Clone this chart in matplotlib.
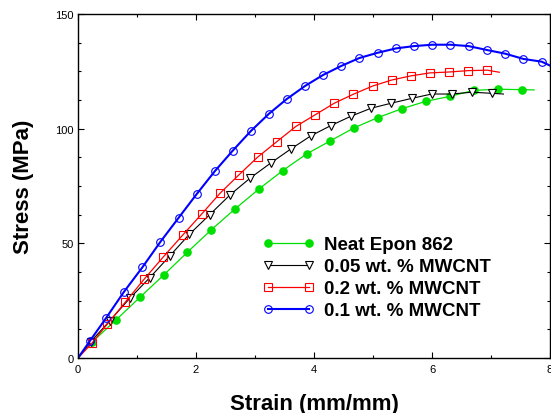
import matplotlib
matplotlib.use("Agg")
import matplotlib.pyplot as plt
from matplotlib.ticker import MultipleLocator

plt.rcParams['font.family'] = ['Liberation Sans', 'DejaVu Sans']

# Neat Epon 862
neat_x = [0, 0.242, 0.644, 1.051, 1.453, 1.853, 2.259, 2.666, 3.063, 3.469, 3.876, 4.271,
          4.683, 5.08, 5.49, 5.893, 6.305, 6.71, 7.119, 7.52, 7.73]
neat_y = [0, 7.0, 16.6, 26.5, 36.2, 46.1, 55.9, 65.1, 73.6, 81.7, 89.0, 94.6,
          100.4, 104.8, 108.7, 111.9, 114.1, 116.7, 117.2, 117.0, 116.9]

# 0.05 wt. % MWCNT
c005_x = [0, 0.215, 0.542, 0.876, 1.215, 1.559, 1.886, 2.232, 2.576, 2.92, 3.266, 3.605,
          3.949, 4.283, 4.625, 4.966, 5.31, 5.656, 5.995, 6.334, 6.678, 7.017, 7.21]
c005_y = [0, 7.1, 16.3, 26.0, 35.0, 44.6, 53.9, 62.5, 71.1, 78.5, 85.0, 91.1,
          96.9, 101.3, 105.4, 108.9, 111.1, 113.2, 115.1, 115.1, 115.9, 115.4, 115.1]

# 0.2 wt. % MWCNT
c02_x = [0, 0.237, 0.497, 0.80, 1.119, 1.44, 1.775, 2.097, 2.41, 2.729, 3.046, 3.368,
         3.695, 4.017, 4.344, 4.666, 4.995, 5.317, 5.639, 5.961, 6.288, 6.615, 6.937, 7.14]
c02_y = [0, 6.5, 14.8, 24.3, 34.3, 43.9, 53.6, 62.8, 71.9, 79.9, 87.6, 94.3,
         101.0, 106.0, 111.1, 115.0, 118.6, 121.2, 123.0, 124.3, 124.7, 125.3, 125.5, 124.6]

# 0.1 wt. % MWCNT
c01_x = [0, 0.203, 0.475, 0.78, 1.09, 1.395, 1.707, 2.012, 2.317, 2.622, 2.927, 3.232,
         3.537, 3.847, 4.153, 4.458, 4.768, 5.08, 5.39, 5.695, 6.005, 6.31, 6.62, 6.93,
         7.24, 7.55, 7.86, 8.0]
c01_y = [0, 7.5, 17.4, 28.9, 39.5, 50.6, 61.2, 71.5, 81.4, 90.4, 98.9, 106.4,
         112.9, 118.6, 123.4, 127.3, 130.8, 133.1, 135.0, 136.0, 136.6, 136.6, 136.0, 134.3,
         132.7, 130.4, 129.2, 127.5]

labels = ["Neat Epon 862", "0.05 wt. % MWCNT", "0.2 wt. % MWCNT", "0.1 wt. % MWCNT"]

fig = plt.figure(figsize=(5.51, 4.14), dpi=100)
ax = fig.add_axes([0.1416, 0.1329, 0.8566, 0.8309])

ax.plot(neat_x, neat_y, color='#00e000', lw=0.9, marker='o', ms=5.2,
        mfc='#00e000', mec='#00e000', markevery=list(range(1, len(neat_x) - 1)),
        label=labels[0])
ax.plot(c005_x, c005_y, color='black', lw=0.8, marker='v', ms=5.2,
        mfc='white', mec='black', mew=0.8, markevery=list(range(1, len(c005_x) - 1)),
        label=labels[1])
ax.plot(c02_x, c02_y, color='red', lw=0.9, marker='s', ms=6,
        mfc='none', mec='red', mew=0.8, markevery=list(range(1, len(c02_x) - 1)),
        label=labels[2])
ax.plot(c01_x, c01_y, color='blue', lw=1.5, marker='o', ms=5.5,
        mfc='none', mec='blue', mew=0.8, markevery=list(range(1, len(c01_x) - 1)),
        label=labels[3])

ax.set_xlim(0, 8)
ax.set_ylim(0, 150)
ax.xaxis.set_major_locator(MultipleLocator(2))
ax.xaxis.set_minor_locator(MultipleLocator(1))
ax.yaxis.set_major_locator(MultipleLocator(50))
ax.yaxis.set_minor_locator(MultipleLocator(12.5))
ax.tick_params(which='both', direction='in', top=True, right=True, labelsize=8, width=0.8)
ax.tick_params(axis='x', which='both', pad=4.5)
ax.tick_params(axis='y', which='both', pad=3)
ax.tick_params(which='major', length=4)
ax.tick_params(which='minor', length=2.5)
for s in ax.spines.values():
    s.set_linewidth(1.0)

ax.set_xlabel("Strain (mm/mm)", fontsize=16, fontweight='bold')
ax.set_ylabel("Stress (MPa)", fontsize=16, fontweight='bold')
ax.xaxis.set_label_coords(0.5, -0.102)
ax.yaxis.set_label_coords(-0.094, 0.5)

leg = ax.legend(loc='center left', bbox_to_anchor=(0.39, 0.233), frameon=False,
                prop={'weight': 'bold', 'size': 13.5},
                handlelength=2.82, handletextpad=0.48, labelspacing=0.26,
                borderpad=0, borderaxespad=0, numpoints=2)

fig.savefig("out.png", dpi=100)
